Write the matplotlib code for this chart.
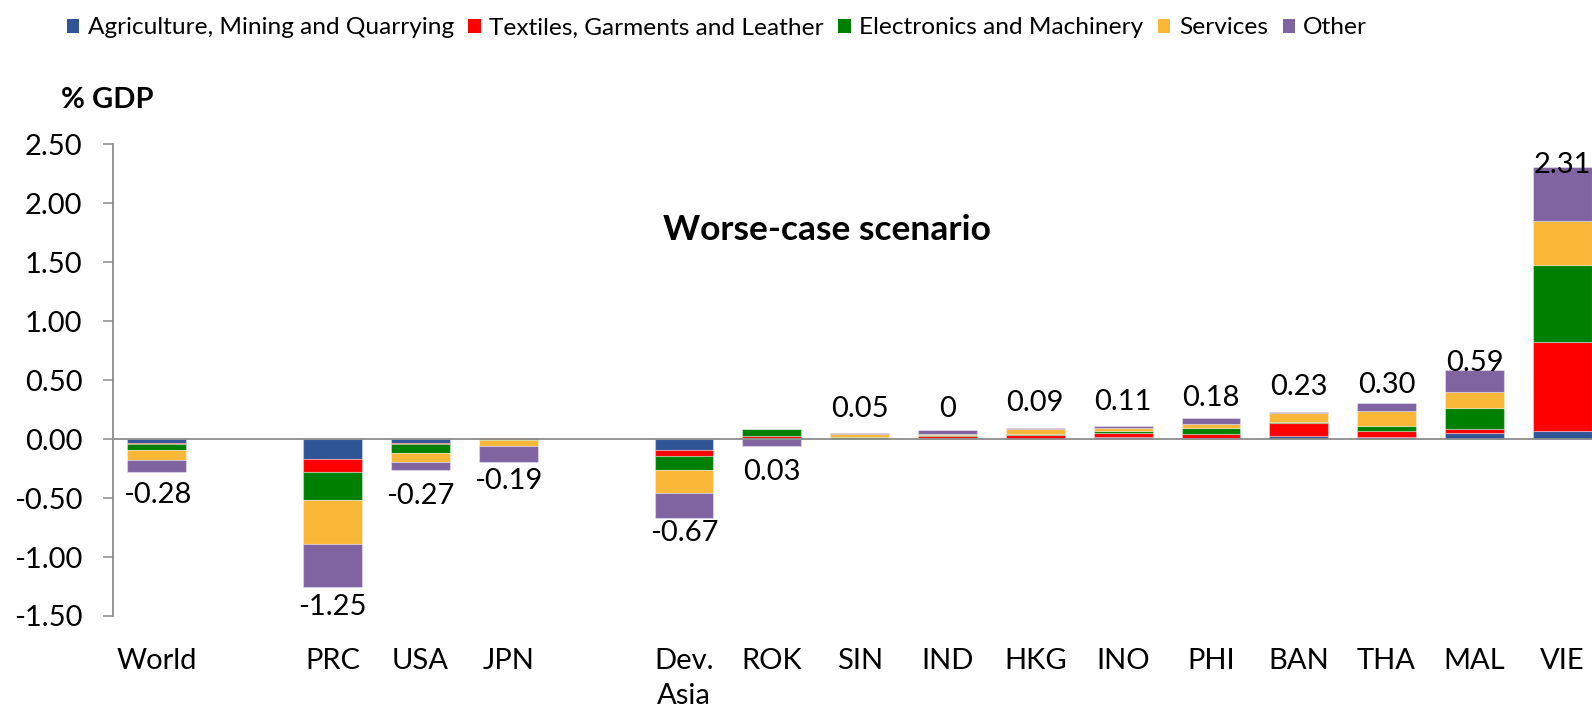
import matplotlib
matplotlib.use("Agg")
import matplotlib.pyplot as plt
from matplotlib.patches import Patch
import numpy as np

plt.rcParams['font.family'] = ['Lato', 'DejaVu Sans']

# ---------------- data ----------------
groups = [["World"], ["PRC", "USA", "JPN"],
          ["Dev.\nAsia", "ROK", "SIN", "IND", "HKG", "INO", "PHI", "BAN", "THA", "MAL", "VIE"]]
series_names = ["Agriculture, Mining and Quarrying", "Textiles, Garments and Leather",
                "Electronics and Machinery", "Services", "Other"]
agri        = [-0.03, -0.17, -0.035, 0.000, -0.09, 0.010, 0.000, 0.010, 0.002, 0.015, 0.010, 0.025, 0.015, 0.055, 0.07]
textiles    = [-0.01, -0.11, -0.010, 0.010, -0.05, 0.015, 0.005, 0.020, 0.030, 0.040, 0.035, 0.115, 0.050, 0.030, 0.75]
electronics = [-0.05, -0.24, -0.070, -0.005, -0.12, 0.060, 0.015, 0.005, 0.010, 0.010, 0.045, 0.005, 0.050, 0.175, 0.66]
services    = [-0.09, -0.37, -0.080, -0.055, -0.20, 0.000, 0.020, 0.005, 0.040, 0.025, 0.040, 0.075, 0.125, 0.140, 0.37]
other       = [-0.10, -0.36, -0.070, -0.130, -0.21, -0.055, 0.010, 0.035, 0.010, 0.020, 0.050, 0.010, 0.065, 0.190, 0.46]
labels = ["-0.28", "-1.25", "-0.27", "-0.19", "-0.67", "0.03", "0.05", "0", "0.09",
          "0.11", "0.18", "0.23", "0.30", "0.59", "2.31"]
yticks = [-1.5, -1.0, -0.5, 0.0, 0.5, 1.0, 1.5, 2.0, 2.5]

# ---------------- style ----------------
colors = ["#2F5597", "#FF0000", "#008000", "#F8B737", "#8064A2"]
gray = "#8C8C8C"
# label placement: below (-1) / above (+1) and pixel gap
label_side = [-1, -1, -1, -1, -1, -1, 1, 1, 1, 1, 1, 1, 1, 1, 1]
label_gap = [10, 7, 13, 6, 2, 13, 16, 13, 17, 16, 12, 17, 10, -1, -6]

# positions: one empty slot between groups
cats, pos = [], []
p = 0
for gi, g in enumerate(groups):
    for c in g:
        cats.append(c)
        pos.append(p)
        p += 1
    p += 1
pos = np.array(pos, dtype=float)

fig = plt.figure(figsize=(15.92, 7.12), dpi=100)
ax = fig.add_axes([113/1592, 1-616/712, 1-113/1592, (616-144.3)/712])

data = np.array([agri, textiles, electronics, services, other])
pos_bottom = np.zeros(len(cats))
neg_bottom = np.zeros(len(cats))
width = 0.67
for i, vals in enumerate(data):
    bottoms = np.where(vals >= 0, pos_bottom, neg_bottom)
    ax.bar(pos, vals, width, bottom=bottoms, color=colors[i],
           edgecolor=(1, 1, 1, 0.35), linewidth=0.8, zorder=2)
    pos_bottom = pos_bottom + np.where(vals >= 0, vals, 0)
    neg_bottom = neg_bottom + np.where(vals < 0, vals, 0)

ax.axhline(0, color=gray, lw=1.3, zorder=3)

px2pt = 72 / 100
for x, lab, side, gap, top, bot in zip(pos, labels, label_side, label_gap, pos_bottom, neg_bottom):
    if side < 0:
        ax.annotate(lab, (x, bot), xytext=(0, -gap * px2pt), textcoords="offset points",
                    ha="center", va="top", fontsize=21, color="black", zorder=5,
                    annotation_clip=False)
    else:
        ax.annotate(lab, (x, top), xytext=(0, gap * px2pt), textcoords="offset points",
                    ha="center", va="baseline", fontsize=21, color="black", zorder=5,
                    annotation_clip=False)

ax.set_ylim(-1.5, 2.5)
ax.set_xlim(-0.5, (1592 - 157.5) / 87.8)
ax.set_yticks(yticks)
ax.set_yticklabels([f"{v:.2f}" for v in yticks])
ax.set_xticks(pos)
ax.set_xticklabels(cats, linespacing=1.42)
ax.tick_params(axis="y", length=7, width=1.1, color=gray, pad=15, labelsize=21)
ax.tick_params(axis="x", length=0, pad=23, labelsize=21)
for s in ["top", "right", "bottom"]:
    ax.spines[s].set_visible(False)
ax.spines["left"].set_color(gray)
ax.spines["left"].set_linewidth(1.3)

fig.text(827/1592, 1-229.5/712, "Worse-case scenario", ha="center", va="center",
         fontsize=25.5, fontweight="bold")
fig.text(61/1592, 1-99.5/712, "% GDP", ha="left", va="center", fontsize=21, fontweight="bold")

handles = [Patch(facecolor=c, edgecolor="none") for c in colors]
fig.legend(handles, series_names, loc="center", bbox_to_anchor=(717/1592, 1-28/712),
           ncol=5, frameon=False, fontsize=17.6, handlelength=0.5, handleheight=0.5,
           handletextpad=0.35, columnspacing=0.6)

fig.savefig("out.png", dpi=100)
